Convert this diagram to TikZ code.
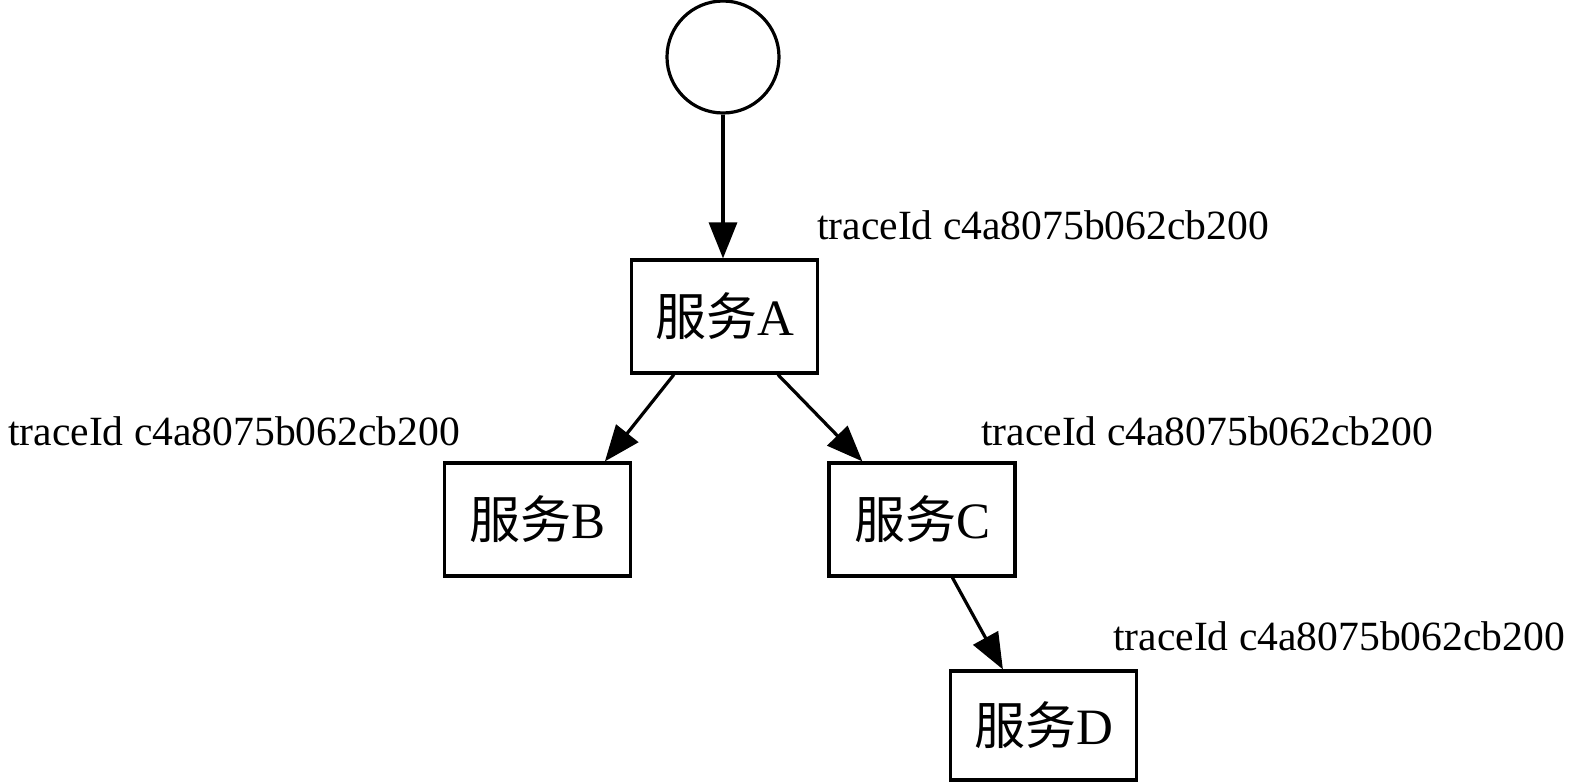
\documentclass[tikz,border=0pt]{standalone}
\usepackage{fontspec}
\setmainfont{Liberation Serif}
\newfontfamily\cjk{Noto Sans CJK SC}
\usetikzlibrary{arrows.meta,calc}
\tikzset{
  svc/.style={draw, line width=3.2pt, minimum width=186pt, minimum height=113pt, inner sep=0pt, font=\fontsize{51}{60}\selectfont},
  lbl/.style={inner sep=0pt, anchor=base west, font=\fontsize{41.6}{48}\selectfont},
  arr/.style={line width=3.2pt, -{Triangle[length=36pt,width=28pt]}},
}
\begin{document}
\begin{tikzpicture}[x=1pt,y=-1pt]
\useasboundingbox (0,0) rectangle (1575,782);
\node[draw, circle, line width=3.2pt, minimum size=112pt, inner sep=0pt] (S) at (723,57) {};
\node[svc] (A) at (724.5,316.5) {{\cjk 服务}A};
\node[svc] (B) at (537.5,519.5) {{\cjk 服务}B};
\node[svc] (C) at (922,519.5) {{\cjk 服务}C};
\node[svc, minimum height=109pt] (D) at (1043.5,725.5) {{\cjk 服务}D};
\node[lbl] (lA) at (817,239) {traceId c4a8075b062cb200};
\node[lbl] (lB) at (8,445) {traceId c4a8075b062cb200};
\node[lbl] (lC) at (981,445) {traceId c4a8075b062cb200};
\node[lbl] (lD) at (1113,650) {traceId c4a8075b062cb200};
\draw[arr] (S.south) -- (S.south |- A.north);
\draw[arr] ([xshift=44pt]A.south west) -- ([xshift=162pt]B.north west);
\draw[arr] ([xshift=148pt]A.south west) -- ([xshift=35pt]C.north west);
\draw[arr] ([xshift=125pt]C.south west) -- ([xshift=54pt]D.north west);
\end{tikzpicture}
\end{document}
